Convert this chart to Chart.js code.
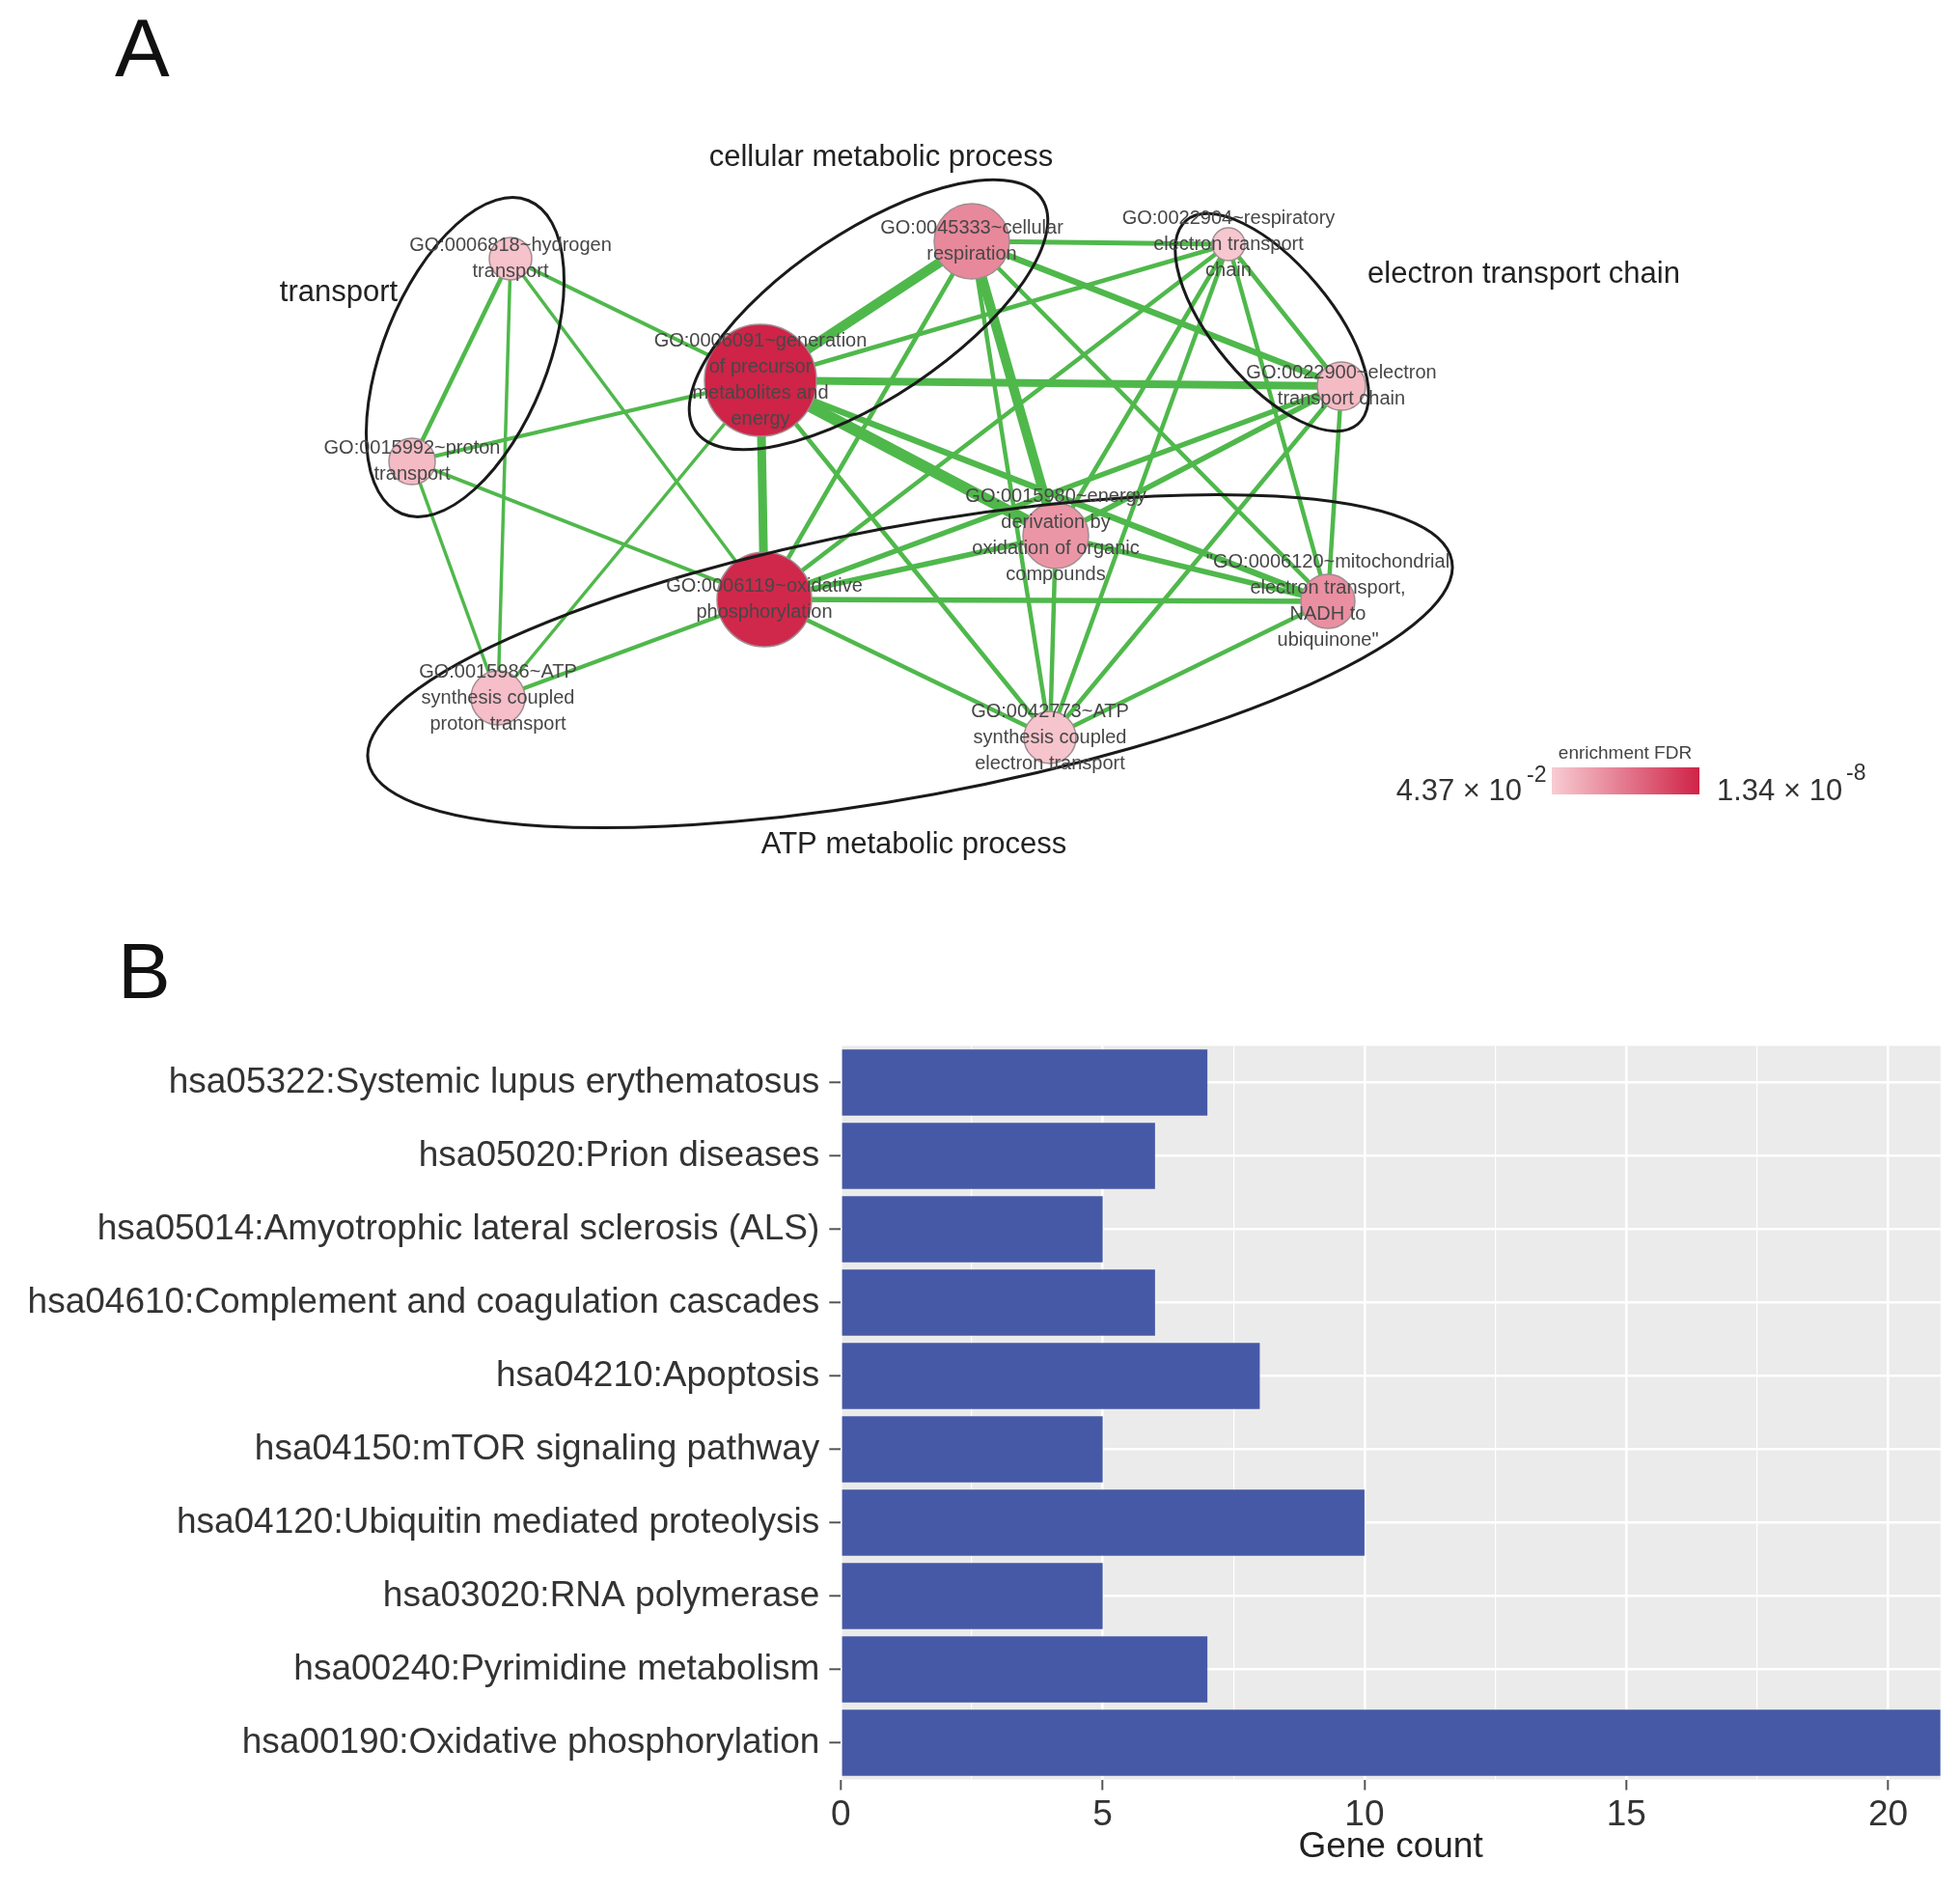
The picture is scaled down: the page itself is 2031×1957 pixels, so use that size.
<!DOCTYPE html>
<html>
<head>
<meta charset="utf-8">
<script src="https://cdn.jsdelivr.net/npm/chart.js@4.4.1/dist/chart.umd.min.js"></script>
<style>
  html, body { margin: 0; padding: 0; background: #fff; }
  #wrap { position: relative; width: 2031px; height: 1957px; }
  canvas { position: absolute; left: 0; }
  #netChart { top: 0; width: 2031px; height: 950px; }
  #barChart { top: 950px; width: 2031px; height: 1007px; }
</style>
</head>
<body>
<div id="wrap">
  <canvas id="netChart" width="2031" height="950"></canvas>
  <canvas id="barChart" width="2031" height="1007"></canvas>
</div>
<script>
// ---- panel A: GO term network ----
const nodeLabels = [
  ['GO:0006818~hydrogen', 'transport'],
  ['GO:0015992~proton', 'transport'],
  ['GO:0006091~generation', 'of precursor', 'metabolites and', 'energy'],
  ['GO:0045333~cellular', 'respiration'],
  ['GO:0022904~respiratory', 'electron transport', 'chain'],
  ['GO:0022900~electron', 'transport chain'],
  ['GO:0015980~energy', 'derivation by', 'oxidation of organic', 'compounds'],
  ['GO:0006119~oxidative', 'phosphorylation'],
  ['"GO:0006120~mitochondrial', 'electron transport,', 'NADH to', 'ubiquinone"'],
  ['GO:0015986~ATP', 'synthesis coupled', 'proton transport'],
  ['GO:0042773~ATP', 'synthesis coupled', 'electron transport']
];
// layout position of each term (layout units)
const nodeX = [529, 427, 788, 1007, 1273, 1390, 1094, 792, 1376, 516, 1088];
const nodeY = [268, 478, 394, 250, 253, 400, 555, 621, 623, 723, 764];
const nodeGenes = [22, 24, 58, 39, 17, 25, 34, 49, 28, 28, 27];
// 0 = least enriched (4.37e-2), 1 = most enriched (1.34e-8)
const nodeEnrich = [0.06, 0.1, 1.0, 0.4, 0.03, 0.1, 0.32, 0.97, 0.36, 0.08, 0.05];

const edgeFrom = [0, 0, 0, 0, 1, 1, 1, 9, 9,
                  2, 2, 2, 2, 2, 2, 2,
                  3, 3, 3, 3, 3, 3,
                  4, 4, 4, 4, 4,
                  5, 5, 5, 5,
                  6, 6, 6,
                  7, 7,
                  8];
const edgeTo   = [1, 9, 2, 7, 2, 7, 9, 2, 7,
                  3, 7, 5, 6, 8, 10, 4,
                  4, 5, 6, 8, 10, 7,
                  5, 6, 7, 8, 10,
                  6, 7, 8, 10,
                  7, 8, 10,
                  8, 10,
                  10];
const edgeOverlap = [4.5, 3.5, 4, 3.5, 4, 4, 3.5, 3.5, 4,
                     10, 9, 8, 12, 6.5, 4.5, 4.5,
                     5, 6.5, 10, 4.5, 4.5, 4.5,
                     4.5, 4.5, 4.5, 4.5, 4.5,
                     5.5, 5.5, 4.5, 4.5,
                     5.5, 5.5, 4.5,
                     5.5, 4.5,
                     4.5];

const clusterNames = ['transport', 'cellular metabolic process', 'electron transport chain', 'ATP metabolic process'];
const clusterCX = [482, 900, 1318, 943];
const clusterCY = [370, 326, 334, 685];
const clusterRX = [175, 216, 138, 571];
const clusterRY = [85, 86, 61, 140];
const clusterTilt = [-68, -33.8, 50, -10.5];
const clusterLabelX = [351, 913, 1579, 947];
const clusterLabelY = [303, 163, 284, 875];

// ---- panel B: KEGG pathways ----
const pathways = [
  'hsa05322:Systemic lupus erythematosus',
  'hsa05020:Prion diseases',
  'hsa05014:Amyotrophic lateral sclerosis (ALS)',
  'hsa04610:Complement and coagulation cascades',
  'hsa04210:Apoptosis',
  'hsa04150:mTOR signaling pathway',
  'hsa04120:Ubiquitin mediated proteolysis',
  'hsa03020:RNA polymerase',
  'hsa00240:Pyrimidine metabolism',
  'hsa00190:Oxidative phosphorylation'
];
const geneCounts = [7, 6, 5, 6, 8, 5, 10, 5, 7, 21];
const countTicks = [0, 5, 10, 15, 20];

const FONT = '"Liberation Sans", Arial, Helvetica, sans-serif';
Chart.defaults.font.family = FONT;

const lowCol = [248, 204, 211];
const highCol = [207, 35, 71];
function fdrColor(t) {
  const c = lowCol.map((v, k) => Math.round(v + (highCol[k] - v) * t));
  return 'rgb(' + c.join(',') + ')';
}

const edgeSets = edgeFrom.map((a, i) => ({
  data: [{ x: nodeX[a], y: nodeY[a] }, { x: nodeX[edgeTo[i]], y: nodeY[edgeTo[i]] }],
  showLine: true,
  borderColor: '#4fb84b',
  borderWidth: edgeOverlap[i],
  pointRadius: 0,
  order: 1,
  clip: false
}));

const nodeSet = {
  data: nodeX.map((x, i) => ({ x: x, y: nodeY[i] })),
  pointRadius: nodeGenes,
  pointHoverRadius: nodeGenes,
  backgroundColor: nodeEnrich.map(fdrColor),
  borderColor: '#a08c90',
  borderWidth: 1.5,
  order: 0,
  clip: false
};

const netDecor = {
  id: 'netDecor',
  afterDatasetsDraw(chart) {
    const ctx = chart.ctx;
    const xs = chart.scales.x, ys = chart.scales.y;
    const kx = xs.getPixelForValue(1) - xs.getPixelForValue(0);
    ctx.save();
    // cluster outlines
    ctx.strokeStyle = '#1a1a1a';
    ctx.lineWidth = 3;
    clusterNames.forEach((n, i) => {
      ctx.beginPath();
      ctx.ellipse(xs.getPixelForValue(clusterCX[i]), ys.getPixelForValue(clusterCY[i]),
        clusterRX[i] * kx, clusterRY[i] * kx, clusterTilt[i] * Math.PI / 180, 0, Math.PI * 2);
      ctx.stroke();
    });
    // node labels
    ctx.fillStyle = '#474747';
    ctx.textAlign = 'center';
    ctx.textBaseline = 'middle';
    ctx.font = '20px ' + FONT;
    nodeLabels.forEach((lines, i) => {
      const cx = xs.getPixelForValue(nodeX[i]), cy = ys.getPixelForValue(nodeY[i]);
      lines.forEach((t, k) => ctx.fillText(t, cx, cy + (k - (lines.length - 1) / 2) * 27));
    });
    // cluster names
    ctx.fillStyle = '#222';
    ctx.font = '31px ' + FONT;
    clusterNames.forEach((n, i) => {
      ctx.fillText(n, xs.getPixelForValue(clusterLabelX[i]), ys.getPixelForValue(clusterLabelY[i]));
    });
    // colour legend
    const g = ctx.createLinearGradient(1608, 0, 1761, 0);
    g.addColorStop(0, fdrColor(0));
    g.addColorStop(1, fdrColor(1));
    ctx.fillStyle = g;
    ctx.fillRect(1608, 795, 153, 28);
    ctx.fillStyle = '#444';
    ctx.font = '19px ' + FONT;
    ctx.textBaseline = 'alphabetic';
    ctx.fillText('enrichment FDR', 1684, 786);
    ctx.fillStyle = '#333';
    ctx.font = '31px ' + FONT;
    ctx.textAlign = 'right';
    ctx.fillText('4.37 \u00d7 10', 1577, 829);
    ctx.textAlign = 'left';
    ctx.fillText('1.34 \u00d7 10', 1779, 829);
    ctx.font = '23px ' + FONT;
    ctx.fillText('-2', 1582, 810);
    ctx.fillText('-8', 1913, 808);
    // panel letter
    ctx.fillStyle = '#111';
    ctx.font = '85px ' + FONT;
    ctx.fillText('A', 119, 79);
    ctx.restore();
  }
};

new Chart(document.getElementById('netChart'), {
  type: 'scatter',
  data: { datasets: [nodeSet].concat(edgeSets) },
  options: {
    responsive: false,
    animation: false,
    devicePixelRatio: 1,
    layout: { padding: 0, autoPadding: false },
    plugins: { legend: { display: false }, tooltip: { enabled: false } },
    scales: {
      x: { type: 'linear', min: 0, max: 2031, display: false },
      y: { type: 'linear', min: 0, max: 950, reverse: true, display: false }
    }
  },
  plugins: [netDecor]
});

const panelBg = {
  id: 'panelBg',
  beforeDraw(chart) {
    const a = chart.chartArea, ctx = chart.ctx;
    ctx.save();
    ctx.fillStyle = '#ebebeb';
    ctx.fillRect(a.left, a.top, a.right - a.left, a.bottom - a.top);
    ctx.restore();
  },
  afterDraw(chart) {
    const ctx = chart.ctx;
    ctx.save();
    ctx.fillStyle = '#111';
    ctx.font = '82px ' + FONT;
    ctx.fillText('B', 122, 84);
    ctx.restore();
  }
};

new Chart(document.getElementById('barChart'), {
  type: 'bar',
  data: {
    labels: pathways,
    datasets: [{
      data: geneCounts,
      backgroundColor: '#4659a6',
      barPercentage: 0.9,
      categoryPercentage: 1.0
    }]
  },
  options: {
    indexAxis: 'y',
    responsive: false,
    animation: false,
    devicePixelRatio: 1,
    layout: { padding: { top: 133.5, right: 20.2, left: 0, bottom: 0 } },
    plugins: { legend: { display: false }, tooltip: { enabled: false } },
    scales: {
      x: {
        type: 'linear', min: 0, max: 21,
        ticks: {
          stepSize: 2.5, includeBounds: false, autoSkip: false, maxRotation: 0,
          padding: 4, color: '#333', font: { size: 37 },
          callback: v => countTicks.includes(v) ? String(v) : ''
        },
        grid: {
          color: '#fff',
          lineWidth: c => (c.tick && countTicks.includes(c.tick.value)) ? 2.6 : 1.2,
          tickLength: 11, tickWidth: 2,
          tickColor: c => (c.tick && countTicks.includes(c.tick.value)) ? '#555' : 'rgba(0,0,0,0)'
        },
        border: { display: false },
        title: { display: true, text: 'Gene count', color: '#222', font: { size: 37 }, padding: { top: 0, bottom: 21 } },
        afterFit: s => { s.height = 113.5; }
      },
      y: {
        ticks: { color: '#333', font: { size: 37 }, padding: 10, autoSkip: false },
        grid: { offset: false, color: '#fff', lineWidth: 2.6, tickLength: 12, tickWidth: 2, tickColor: '#555' },
        border: { display: false },
        afterFit: s => { s.width = 871.3; }
      }
    }
  },
  plugins: [panelBg]
});
</script>
</body>
</html>
